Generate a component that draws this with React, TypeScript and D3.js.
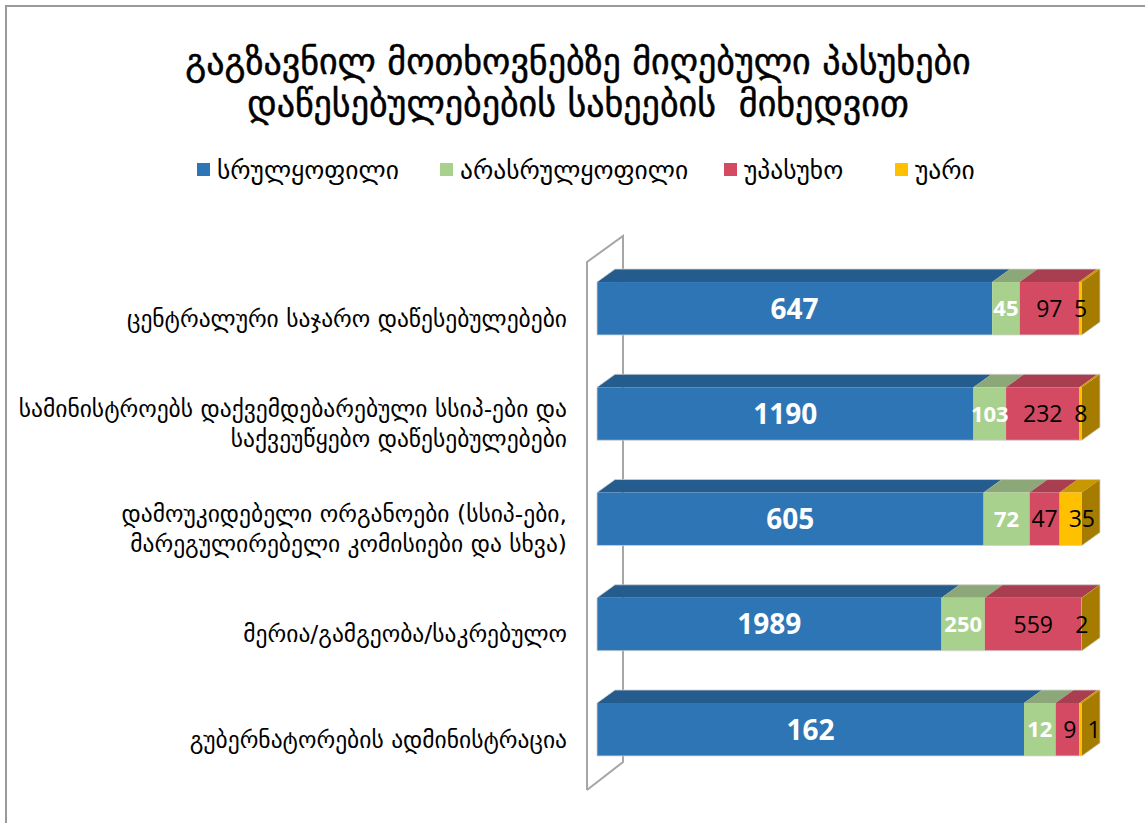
import * as d3 from "d3";

const categories = [
  ["ცენტრალური საჯარო დაწესებულებები"],
  ["სამინისტროებს დაქვემდებარებული სსიპ-ები და", "საქვეუწყებო დაწესებულებები"],
  ["დამოუკიდებელი ორგანოები (სსიპ-ები,", "მარეგულირებელი კომისიები და სხვა)"],
  ["მერია/გამგეობა/საკრებულო"],
  ["გუბერნატორების ადმინისტრაცია"],
];
const seriesNames = ["სრულყოფილი", "არასრულყოფილი", "უპასუხო", "უარი"];
const full = [647, 1190, 605, 1989, 162];
const partial = [45, 103, 72, 250, 12];
const noAnswer = [97, 232, 47, 559, 9];
const refused = [5, 8, 35, 2, 1];
const titleLines = ["გაგზავნილ მოთხოვნებზე მიღებული პასუხები", "დაწესებულებების სახეების  მიხედვით"];

const front = ["#2E75B6", "#A9D18E", "#D44A62", "#FFC000"];
const top = ["#255C8E", "#8DA878", "#A83E50", "#C99700"];
const sideColor = "#A67C00";
const labelFill = ["#fff", "#fff", "#000", "#000"];
const labelWeight = [700, 700, 400, 400];
const labelSize = [28, 22, 23, 23];

const W = 1145;
const H = 823;
const DX = 18;
const DY = -13;

export default function App() {
  const rows = categories.map((c, i) => ({
    key: String(i),
    s0: full[i],
    s1: partial[i],
    s2: noAnswer[i],
    s3: refused[i],
  }));
  const keys = ["s0", "s1", "s2", "s3"];
  const values = [full, partial, noAnswer, refused];
  const stacked = d3.stack<any>().keys(keys).offset(d3.stackOffsetExpand)(rows);

  const x = d3.scaleLinear().domain([0, 1]).range([597, 1082]);
  const y = d3
    .scaleBand()
    .domain(rows.map((r) => r.key))
    .range([255, 783])
    .paddingInner(0.497)
    .paddingOuter(0.257);
  const bw = y.bandwidth();

  // wall on the category side (z = 0 plane sits 10px left / 7px down of the bars' front)
  const wx0 = x(0) - 10;
  const wy0 = y.range()[0] + 7;
  const wy1 = y.range()[1] + 7;
  const wallPath =
    `M${wx0},${wy1} L${wx0},${wy0} L${wx0 + 36},${wy0 - 26} L${wx0 + 36},${wy1 - 28} L${wx0},${wy1}`;

  const font = "'DejaVu Sans', sans-serif";
  const numFont = "'Open Sans', sans-serif";

  const legendX = [197, 440, 724, 895];

  // label x positions: segment centres, pushed right when two small labels would collide
  const labelPos = rows.map((r, i) => {
    const out: number[] = [];
    let prevRight = -Infinity;
    stacked.forEach((s, k) => {
      const txt = String(values[k][i]);
      const w = txt.length * 0.57 * labelSize[k];
      let cx = (x(s[i][0]) + x(s[i][1])) / 2;
      if (cx - w / 2 < prevRight + 11) cx = prevRight + 11 + w / 2;
      out.push(cx);
      prevRight = cx + w / 2;
    });
    return out;
  });

  return (
    <div style={{ position: "absolute", left: 0, top: 0 }}>
      <svg width={W} height={H} style={{ display: "block", background: "#fff" }}>
        <path d={`M6,${H} L6,6 L${W},6`} fill="none" stroke="#9a9a9a" strokeWidth={2} />

        {titleLines.map((t, i) => (
          <text
            key={i}
            x={578}
            y={74 + i * 42}
            textAnchor="middle"
            fontFamily={font}
            fontSize={36}
            stroke="#000"
            strokeWidth={0.5}
            style={{ whiteSpace: "pre" }}
          >
            {t}
          </text>
        ))}

        {seriesNames.map((n, i) => (
          <g key={n}>
            <rect x={legendX[i]} y={163} width={13} height={13} fill={front[i]} />
            <text x={legendX[i] + 20} y={179} fontFamily={font} fontSize={25.5}>
              {n}
            </text>
          </g>
        ))}

        <path d={wallPath} fill="none" stroke="#a6a6a6" strokeWidth={2} />

        {rows.map((r, i) => {
          const y0 = y(r.key)!;
          const segs = stacked.map((s) => s[i]);
          return (
            <g key={r.key}>
              {segs.map((d, k) => {
                const xa = x(d[0]);
                const xb = x(d[1]);
                return (
                  <path
                    key={"t" + k}
                    d={`M${xa},${y0} L${xa + DX},${y0 + DY} L${xb + DX},${y0 + DY} L${xb},${y0} Z`}
                    fill={top[k]}
                  />
                );
              })}
              {segs.map((d, k) => (
                <rect
                  key={"f" + k}
                  x={x(d[0])}
                  y={y0}
                  width={x(d[1]) - x(d[0])}
                  height={bw}
                  fill={front[k]}
                />
              ))}
              <path
                d={`M${x(1)},${y0} L${x(1) + DX},${y0 + DY} L${x(1) + DX},${y0 + bw + DY} L${x(1)},${y0 + bw} Z`}
                fill={sideColor}
              />
              <path
                d={`M${x(0)},${y0 + bw} L${x(0)},${y0} L${x(0) + DX},${y0 + DY} L${x(1) + DX},${y0 + DY} L${x(1) + DX},${y0 + bw + DY} L${x(1)},${y0 + bw} Z`}
                fill="none"
                stroke="#d0d0d0"
                strokeWidth={0.8}
              />
              {segs.map((d, k) => (
                <text
                  key={"l" + k}
                  x={labelPos[i][k]}
                  y={y0 + bw / 2}
                  dy="0.36em"
                  textAnchor="middle"
                  fontFamily={numFont}
                  fontWeight={labelWeight[k]}
                  fontSize={labelSize[k]}
                  fill={labelFill[k]}
                >
                  {values[k][i]}
                </text>
              ))}
              {categories[i].map((line, j) => (
                <text
                  key={"c" + j}
                  x={567}
                  y={y0 + bw / 2 + 10 + (j - (categories[i].length - 1) / 2) * 30}
                  dy="0.35em"
                  textAnchor="end"
                  fontFamily={font}
                  fontSize={23.5}
                >
                  {line}
                </text>
              ))}
            </g>
          );
        })}
      </svg>
    </div>
  );
}
